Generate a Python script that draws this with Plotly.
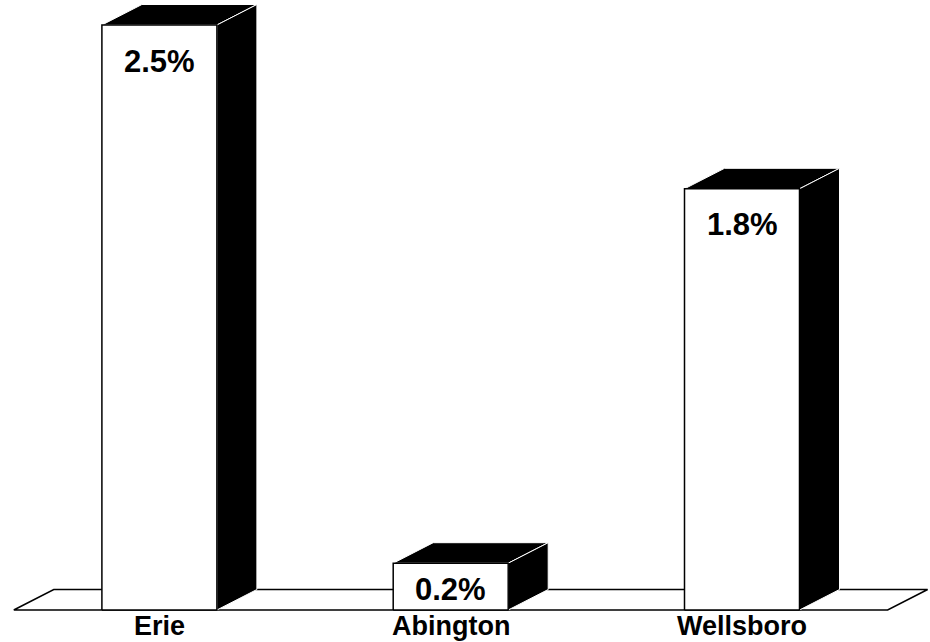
import plotly.graph_objects as go

# Values shown on the chart (percent)
categories = ["Erie", "Abington", "Wellsboro"]
values = [2.5, 0.2, 1.8]
value_labels = ["2.5%", "0.2%", "1.8%"]

W, H = 930, 642
# pixel geometry of the drawing area
X0_PX, X_STEP_PX = 159.4, 291.3      # first bar centre and spacing
Y0_PX, Y_UNIT_PX = 610.0, 234.0      # floor line and pixels per percent
BAR_W_PX = 115.0
DEPTH_X_PX, DEPTH_Y_PX = 40.0, 20.5

x_range = [-X0_PX / X_STEP_PX, (W - X0_PX) / X_STEP_PX]
y_range = [(Y0_PX - H) / Y_UNIT_PX, Y0_PX / Y_UNIT_PX]

hw = BAR_W_PX / 2 / X_STEP_PX
dx = DEPTH_X_PX / X_STEP_PX
dy = DEPTH_Y_PX / Y_UNIT_PX

FONT = "Arial, Liberation Sans, sans-serif"

fig = go.Figure()

# floor plane
fl, fr = -0.5, len(categories) - 0.5
fig.add_trace(go.Scatter(
    x=[fl, fr, fr + dx, fl + dx, fl],
    y=[0, 0, dy, dy, 0],
    mode="lines", fill="toself", fillcolor="white",
    line=dict(color="black", width=1.5),
    hoverinfo="skip", showlegend=False))

for i, v in enumerate(values):
    xl, xr = i - hw, i + hw
    # top face
    fig.add_trace(go.Scatter(
        x=[xl, xr, xr + dx, xl + dx, xl],
        y=[v, v, v + dy, v + dy, v],
        mode="lines", fill="toself", fillcolor="black",
        line=dict(color="white", width=1),
        hoverinfo="skip", showlegend=False))
    # side face
    fig.add_trace(go.Scatter(
        x=[xr, xr + dx, xr + dx, xr, xr],
        y=[0, dy, v + dy, v, 0],
        mode="lines", fill="toself", fillcolor="black",
        line=dict(color="white", width=1),
        hoverinfo="skip", showlegend=False))
    # front face
    fig.add_trace(go.Scatter(
        x=[xl, xr, xr, xl, xl],
        y=[0, 0, v, v, 0],
        mode="lines", fill="toself", fillcolor="white",
        line=dict(color="black", width=1.5),
        hoverinfo="skip", showlegend=False))

annotations = []
for i, (v, lab) in enumerate(zip(values, value_labels)):
    face_px = v * Y_UNIT_PX
    shift = -36 if face_px > 80 else -(face_px / 2 + 3)
    annotations.append(dict(
        x=i, y=v, xref="x", yref="y", text=f"<b>{lab}</b>",
        showarrow=False, yanchor="middle", yshift=shift,
        font=dict(family=FONT, size=31, color="black")))
    annotations.append(dict(
        x=i, y=0, xref="x", yref="y", text=f"<b>{categories[i]}</b>",
        showarrow=False, yanchor="middle", yshift=-16,
        font=dict(family=FONT, size=27, color="black")))

fig.update_layout(
    width=W, height=H,
    margin=dict(l=0, r=0, t=0, b=0),
    paper_bgcolor="white", plot_bgcolor="white",
    xaxis=dict(range=x_range, visible=False, fixedrange=True),
    yaxis=dict(range=y_range, visible=False, fixedrange=True),
    annotations=annotations,
    showlegend=False,
)

fig.write_html("out.html", config={"displayModeBar": False})
